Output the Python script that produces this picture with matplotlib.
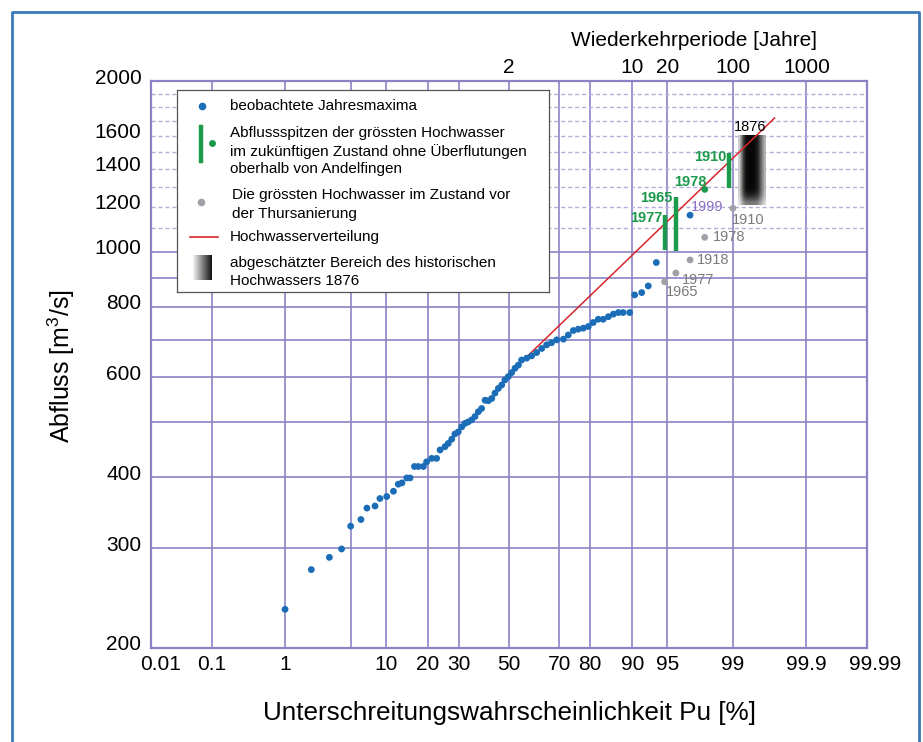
import numpy as np
import matplotlib
matplotlib.use("Agg")
import matplotlib.pyplot as plt
from matplotlib.lines import Line2D
from matplotlib.transforms import ScaledTranslation
from statistics import NormalDist

plt.rcParams['font.family'] = ['Liberation Sans', 'DejaVu Sans']
plt.rcParams['mathtext.default'] = 'regular'

GRID = '#8a84c6'
GRID_LIGHT = '#b3afda'
BLUE = '#1a6db6'
GREEN = '#1c9a4c'
GREY = '#a0a0a8'
GREY_TXT = '#7a7a7a'
RED = '#d8262b'
PURPLE = '#8b6fc6'

# beobachtete Jahresmaxima: Unterschreitungswahrscheinlichkeit [%], Abfluss [m3/s]
obs_p = [1.0, 2.0, 3.1, 4.1, 5.0, 6.2, 7.0, 8.2, 9.0, 10.2,
         11.5, 12.5, 13.3, 14.4, 15.2, 16.3, 17.3, 18.7, 19.6, 21.1,
         22.6, 23.7, 25.3, 26.4, 27.6, 28.7, 29.9, 31.2, 32.4, 33.6,
         34.9, 36.2, 37.5, 38.8, 40.2, 41.5, 42.9, 44.2, 45.6, 47.0,
         48.3, 49.7, 51.1, 52.5, 53.9, 55.2, 57.3, 59.3, 61.3, 63.3,
         65.2, 67.1, 69.0, 71.4, 73.1, 74.8, 76.4, 78.0, 79.5, 80.9,
         82.3, 83.6, 84.9, 86.1, 87.2, 88.2, 89.5, 90.4, 91.6, 92.6,
         93.7, 97.0]
obs_q = [234, 275, 289, 299, 328, 337, 353, 356, 367, 370,
         378, 389, 391, 399, 399, 418, 418, 418, 426, 432,
         432, 447, 453, 459, 467, 477, 481, 491, 498, 501,
         505, 512, 522, 529, 547, 546, 551, 563, 574, 582,
         594, 602, 612, 623, 631, 644, 649, 655, 664, 675,
         685, 691, 699, 701, 713, 726, 730, 733, 738, 750,
         760, 760, 768, 776, 781, 781, 781, 839, 847, 870,
         957, 1160]

# Hochwasserverteilung (Anfangs- und Endpunkt)
dist_p = [48.3, 99.71]
dist_q = [599, 1721]

# zukuenftiger Zustand: Bandbreiten und Einzelwert
fut_years = ['1977', '1965', '1910']
fut_p = [94.7, 95.85, 98.9]
fut_lo = [1007, 1004, 1294]
fut_hi = [1161, 1250, 1491]
fut_dot_year = '1978'
fut_dot_p = 97.9
fut_dot_q = 1288

# Zustand vor der Thursanierung
old_years = ['1910', '1978', '1918', '1977', '1965']
old_p = [99.0, 97.9, 97.0, 95.85, 94.7]
old_q = [1193, 1060, 967, 917, 885]

# historisches Hochwasser 1876
hist_p = [99.14, 99.63]
hist_q = [1208, 1606]

x_ticks = [0.01, 0.1, 1, 10, 20, 30, 50, 70, 80, 90, 95, 99, 99.9, 99.99]
x_grid = [0.1, 1, 5, 10, 20, 30, 50, 70, 80, 90, 95, 99, 99.9]
y_ticks = [200, 300, 400, 600, 800, 1000, 1200, 1400, 1600, 2000]
y_grid = [300, 400, 500, 600, 700, 800, 900, 1000]
y_grid_dashed = [1100, 1200, 1300, 1400, 1500, 1600, 1700, 1800, 1900]
return_periods = [2, 10, 20, 100, 1000]

_nd = NormalDist()
_ppf = np.vectorize(lambda v: _nd.inv_cdf(v / 100.0), otypes=[float])
_cdf = np.vectorize(lambda v: 100.0 * _nd.cdf(v), otypes=[float])


def prob_to_z(p):
    p = np.clip(np.asarray(p, dtype=float), 1e-6, 100 - 1e-6)
    return _ppf(p)


def z_to_prob(z):
    return _cdf(np.asarray(z, dtype=float))


W, H = 923, 742
fig = plt.figure(figsize=(W / 100, H / 100), dpi=100)
fig.patch.set_facecolor('white')

ax_l, ax_t, ax_r, ax_b = 151, 81, 867, 648
ax = fig.add_axes([ax_l / W, 1 - ax_b / H, (ax_r - ax_l) / W, (ax_b - ax_t) / H])
ax.set_xscale('function', functions=(prob_to_z, z_to_prob))
ax.set_yscale('log')

# Raster
for v in x_grid:
    ax.axvline(v, color=GRID, lw=1.2, zorder=1)
for v in y_grid:
    ax.axhline(v, color=GRID, lw=1.2, zorder=1)
for v in y_grid_dashed:
    ax.axhline(v, color=GRID_LIGHT, lw=1.0, ls=(0, (3, 2)), zorder=1)

# Hochwasserverteilung
ax.plot(dist_p, dist_q, color=RED, lw=1.1, zorder=3)

# beobachtete Jahresmaxima
ax.scatter(obs_p, obs_q, s=24, color=BLUE, edgecolors='none', zorder=4)

# Zustand vor der Thursanierung
ax.scatter(old_p, old_q, s=24, color=GREY, edgecolors='none', zorder=4)
old_offsets = [(-1, -12), (8, 0), (7, 0), (6, -7), (1, -10)]
for yr, p, q, off in zip(old_years, old_p, old_q, old_offsets):
    ax.annotate(yr, (p, q), xytext=(off[0] * 0.72, off[1] * 0.72),
                textcoords='offset points', ha='left', va='center',
                fontsize=10.5, color=GREY_TXT, zorder=6)

# zukuenftiger Zustand
ax.vlines(fut_p, fut_lo, fut_hi, color=GREEN, lw=3.2, zorder=5)
ax.scatter([fut_dot_p], [fut_dot_q], s=24, color=GREEN, edgecolors='none', zorder=5)
fut_offsets = [(-2, -3), (-3, -1), (-3, -4)]
for yr, p, q, off in zip(fut_years, fut_p, fut_hi, fut_offsets):
    ax.annotate(yr, (p, q), xytext=(off[0] * 0.72, off[1] * 0.72),
                textcoords='offset points', ha='right', va='center',
                fontsize=10.5, color=GREEN, fontweight='bold', zorder=6)
ax.annotate(fut_dot_year, (fut_dot_p, fut_dot_q), xytext=(2 * 0.72, 7 * 0.72),
            textcoords='offset points', ha='right', va='center',
            fontsize=10.5, color=GREEN, fontweight='bold', zorder=6)

# 1999 beschriftet
ax.annotate('1999', (obs_p[-1], obs_q[-1]), xytext=(1 * 0.72, 8 * 0.72),
            textcoords='offset points', ha='left', va='center',
            fontsize=10.5, color=PURPLE, zorder=6)

# Bereich des historischen Hochwassers 1876
prof = np.array([0.8, 0.5, 0.2, 0.06, 0.03, 0.03, 0.05, 0.12, 0.4, 0.72])
vert = np.ones(20)
vert[:4] = [0.55, 0.75, 0.9, 0.97]
img = 1 - np.outer(vert, 1 - prof)
ax.imshow(img, extent=(hist_p[0], hist_p[1], hist_q[0], hist_q[1]),
          origin='lower', aspect='auto', cmap='gray', vmin=0, vmax=1,
          interpolation='bilinear', zorder=2)
ax.annotate('1876', (np.mean(hist_p), hist_q[1]), xytext=(0, 1),
            textcoords='offset points', ha='center', va='bottom',
            fontsize=10.5, color='black', zorder=6)

ax.set_xlim(0.01, 99.99)
ax.set_ylim(200, 2000)

ax.set_xticks(x_ticks)
ax.set_xticklabels([f'{v:g}' for v in x_ticks])
ax.set_yticks(y_ticks)
ax.set_yticklabels([str(v) for v in y_ticks])
ax.minorticks_off()
ax.tick_params(axis='both', length=0, labelsize=15, colors='black')
ax.tick_params(axis='x', pad=5)
ax.tick_params(axis='y', pad=7)
for lab in ax.get_yticklabels():
    lab.set_transform(lab.get_transform() + ScaledTranslation(0, 5 / 100, fig.dpi_scale_trans))
# Randbeschriftungen etwas nach innen bzw. aussen versetzt
xlabs = ax.get_xticklabels()
xlabs[0].set_transform(xlabs[0].get_transform() + ScaledTranslation(10 / 100, 0, fig.dpi_scale_trans))
xlabs[-1].set_transform(xlabs[-1].get_transform() + ScaledTranslation(8 / 100, 0, fig.dpi_scale_trans))

for sp in ax.spines.values():
    sp.set_color(GRID)
    sp.set_linewidth(1.6)

# Wiederkehrperiode oben
for T in return_periods:
    ax.text(100 * (1 - 1 / T), 1.007, str(T), transform=ax.get_xaxis_transform(),
            ha='center', va='bottom', fontsize=15)

fig.text(694 / W, 1 - 40 / H, 'Wiederkehrperiode [Jahre]', ha='center', va='center', fontsize=15)
fig.text(61 / W, 1 - 366 / H, 'Abfluss [m$^3$/s]', ha='center', va='center',
         rotation=90, fontsize=18)
fig.text(510 / W, 1 - 713 / H, 'Unterschreitungswahrscheinlichkeit Pu [%]',
         ha='center', va='center', fontsize=18.8)

# Legende
lg_l, lg_t, lg_r, lg_b = 177, 90, 549, 292
leg = fig.add_axes([lg_l / W, 1 - lg_b / H, (lg_r - lg_l) / W, (lg_b - lg_t) / H])
leg.set_facecolor('white')
for sp in leg.spines.values():
    sp.set_color('#555555')
    sp.set_linewidth(0.9)

fs = 11
leg.plot([24.5], [16], 'o', ms=5.5, color=BLUE, mec='none')
leg.text(53, 16, 'beobachtete Jahresmaxima', va='center', fontsize=fs)

leg.plot([23.5, 23.5], [37, 71], color=GREEN, lw=3.2)
leg.plot([34.5], [53], 'o', ms=5, color=GREEN, mec='none')
leg.text(53, 43, 'Abflussspitzen der grössten Hochwasser', va='center', fontsize=fs)
leg.text(53, 61.5, 'im zukünftigen Zustand ohne Überflutungen', va='center', fontsize=fs)
leg.text(53, 79.5, 'oberhalb von Andelfingen', va='center', fontsize=fs)

leg.plot([23.5], [112], 'o', ms=5.5, color=GREY, mec='none')
leg.text(54.5, 105, 'Die grössten Hochwasser im Zustand vor', va='center', fontsize=fs)
leg.text(54.5, 124, 'der Thursanierung', va='center', fontsize=fs)

leg.plot([13, 41], [147, 147], color=RED, lw=1.2)
leg.text(53, 147, 'Hochwasserverteilung', va='center', fontsize=fs)

leg.imshow(np.linspace(0.95, 0.08, 30)[None, :], extent=(15.5, 34.5, 190, 165),
           aspect='auto', cmap='gray', vmin=0, vmax=1, interpolation='bilinear')
leg.text(53, 172.5, 'abgeschätzter Bereich des historischen', va='center', fontsize=fs)
leg.text(53, 191, 'Hochwassers 1876', va='center', fontsize=fs)

leg.set_xlim(0, lg_r - lg_l)
leg.set_ylim(lg_b - lg_t, 0)
leg.set_xticks([])
leg.set_yticks([])

# Rahmen (oben, links, rechts)
fx = [12 / W, 12 / W, 919 / W, 919 / W]
fy = [0, 1 - 12 / H, 1 - 12 / H, 0]
fig.add_artist(Line2D(fx, fy, transform=fig.transFigure, color='#3d7ab8', lw=2.0))

fig.savefig('out.png', dpi=100, facecolor='white')
